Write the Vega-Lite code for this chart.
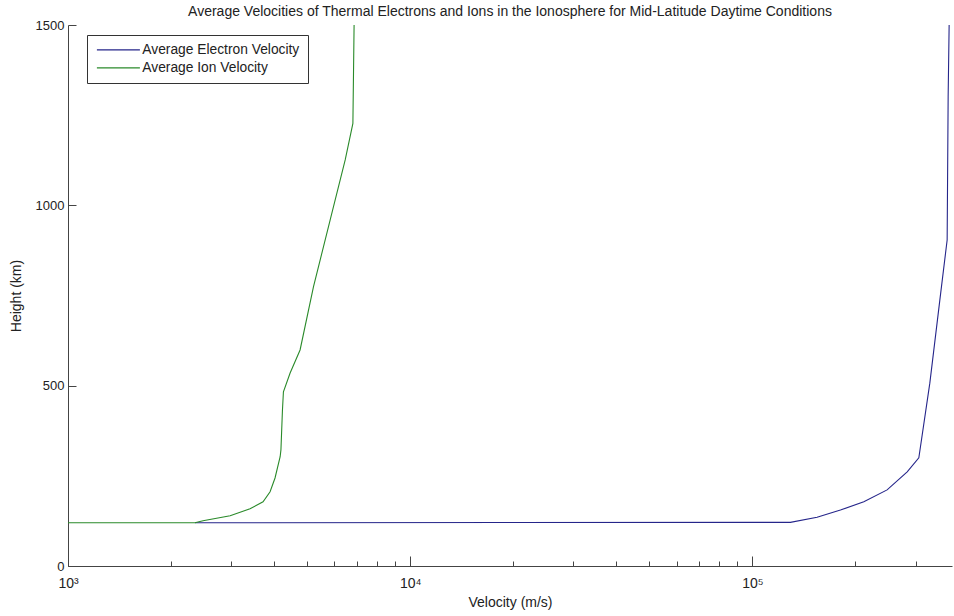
{
  "$schema": "https://vega.github.io/schema/vega-lite/v6.json",
  "width": 884,
  "height": 541,
  "autosize": {"type": "none"},
  "padding": {"left": 68, "top": 25, "right": 2, "bottom": 50},
  "background": "white",
  "title": {
    "text": "Average Velocities of Thermal Electrons and Ions in the Ionosphere for Mid-Latitude Daytime Conditions",
    "fontSize": 14,
    "fontWeight": "normal",
    "font": "Liberation Sans",
    "color": "#222222",
    "anchor": "middle",
    "frame": "group",
    "offset": 0
  },
  "data": {
    "values": [
      {"series": "Average Electron Velocity", "i": 1, "v": 2350, "h": 120},
      {"series": "Average Electron Velocity", "i": 2, "v": 129100, "h": 121},
      {"series": "Average Electron Velocity", "i": 3, "v": 154500, "h": 135},
      {"series": "Average Electron Velocity", "i": 4, "v": 180800, "h": 155},
      {"series": "Average Electron Velocity", "i": 5, "v": 211600, "h": 178},
      {"series": "Average Electron Velocity", "i": 6, "v": 247500, "h": 211},
      {"series": "Average Electron Velocity", "i": 7, "v": 283300, "h": 261},
      {"series": "Average Electron Velocity", "i": 8, "v": 306400, "h": 300},
      {"series": "Average Electron Velocity", "i": 9, "v": 329900, "h": 507},
      {"series": "Average Electron Velocity", "i": 10, "v": 352900, "h": 737},
      {"series": "Average Electron Velocity", "i": 11, "v": 370700, "h": 904},
      {"series": "Average Electron Velocity", "i": 12, "v": 373200, "h": 1301},
      {"series": "Average Electron Velocity", "i": 13, "v": 375700, "h": 1500},
      {"series": "Average Ion Velocity", "i": 1, "v": 1000, "h": 120},
      {"series": "Average Ion Velocity", "i": 2, "v": 2350, "h": 120},
      {"series": "Average Ion Velocity", "i": 3, "v": 2481, "h": 125.6},
      {"series": "Average Ion Velocity", "i": 4, "v": 2977, "h": 139.5},
      {"series": "Average Ion Velocity", "i": 5, "v": 3404, "h": 159},
      {"series": "Average Ion Velocity", "i": 6, "v": 3715, "h": 178},
      {"series": "Average Ion Velocity", "i": 7, "v": 3895, "h": 206},
      {"series": "Average Ion Velocity", "i": 8, "v": 4027, "h": 244},
      {"series": "Average Ion Velocity", "i": 9, "v": 4168, "h": 303},
      {"series": "Average Ion Velocity", "i": 10, "v": 4190, "h": 322},
      {"series": "Average Ion Velocity", "i": 11, "v": 4233, "h": 432},
      {"series": "Average Ion Velocity", "i": 12, "v": 4261, "h": 483},
      {"series": "Average Ion Velocity", "i": 13, "v": 4457, "h": 535},
      {"series": "Average Ion Velocity", "i": 14, "v": 4766, "h": 599},
      {"series": "Average Ion Velocity", "i": 15, "v": 5215, "h": 774},
      {"series": "Average Ion Velocity", "i": 16, "v": 5834, "h": 959},
      {"series": "Average Ion Velocity", "i": 17, "v": 6457, "h": 1126},
      {"series": "Average Ion Velocity", "i": 18, "v": 6800, "h": 1227},
      {"series": "Average Ion Velocity", "i": 19, "v": 6855, "h": 1500}
    ]
  },
  "mark": {"type": "line", "strokeWidth": 1.1, "interpolate": "linear"},
  "encoding": {
    "x": {
      "field": "v",
      "type": "quantitative",
      "scale": {"type": "log", "domain": [1000, 383000], "nice": false},
      "axis": {
        "title": "Velocity (m/s)",
        "values": [1000, 2000, 3000, 4000, 5000, 6000, 7000, 8000, 9000, 10000, 20000, 30000, 40000, 50000, 60000, 70000, 80000, 90000, 100000, 200000, 300000],
        "labelExpr": "datum.value == 1000 ? '10³' : datum.value == 10000 ? '10⁴' : datum.value == 100000 ? '10⁵' : ''",
        "tickSize": {"condition": {"test": "indexof([1000, 10000, 100000], datum.value) >= 0", "value": -10}, "value": -5},
        "labelPadding": 20,
        "labelFontSize": 14,
        "labelFlush": false,
        "titlePadding": 5
      }
    },
    "y": {
      "field": "h",
      "type": "quantitative",
      "scale": {"domain": [0, 1500], "nice": false, "zero": true},
      "axis": {
        "title": "Height (km)",
        "values": [0, 500, 1000, 1500],
        "format": "d",
        "tickSize": -8,
        "labelPadding": 12,
        "titlePadding": 12
      }
    },
    "color": {
      "field": "series",
      "type": "nominal",
      "scale": {"domain": ["Average Electron Velocity", "Average Ion Velocity"], "range": ["#25258a", "#2a8a2a"]},
      "legend": {
        "title": null,
        "orient": "none",
        "legendX": 19,
        "legendY": 10,
        "padding": 8,
        "strokeColor": "#333333",
        "fillColor": "white",
        "symbolType": "M-4.3,0L4.3,0",
        "symbolSize": 100,
        "symbolStrokeWidth": 1.1,
        "symbolOffset": 16.5,
        "labelOffset": 17,
        "labelLimit": 400,
        "labelFontSize": 13.8,
        "labelFont": "Liberation Sans",
        "labelColor": "#222222",
        "rowPadding": 3
      }
    },
    "order": {"field": "i", "type": "quantitative"}
  },
  "config": {
    "font": "Liberation Sans",
    "view": {"stroke": null},
    "axis": {
      "grid": false,
      "domainColor": "#444444",
      "tickColor": "#444444",
      "labelColor": "#222222",
      "titleColor": "#222222",
      "labelFontSize": 13,
      "titleFontSize": 14,
      "titleFontWeight": "normal",
      "labelFont": "Liberation Sans",
      "titleFont": "Liberation Sans"
    }
  }
}
